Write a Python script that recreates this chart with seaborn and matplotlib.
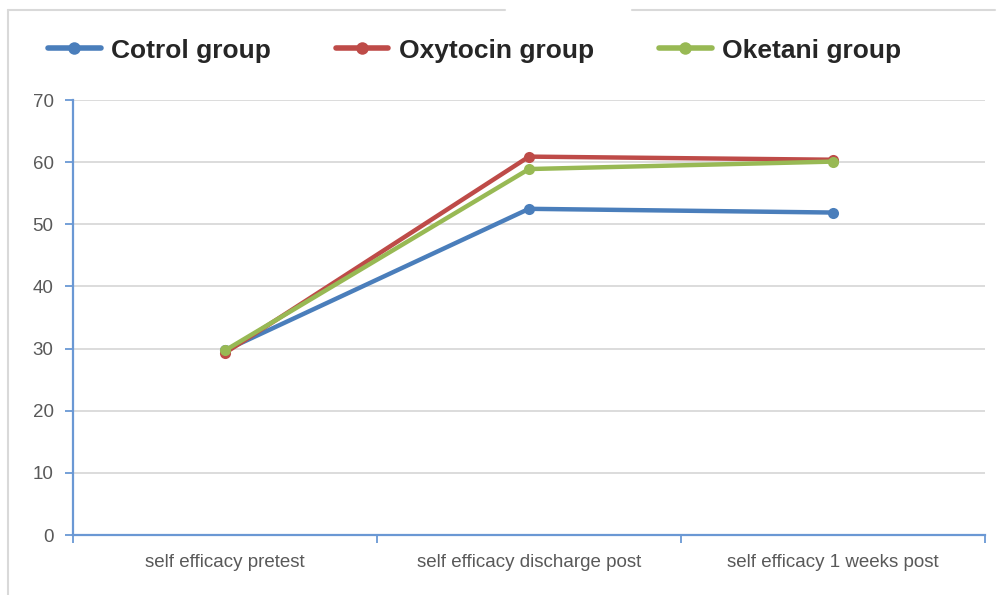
import matplotlib
matplotlib.use("Agg")
import matplotlib.pyplot as plt
import seaborn as sns
import pandas as pd
from matplotlib.lines import Line2D

categories = ["self efficacy pretest", "self efficacy discharge post", "self efficacy 1 weeks post"]
groups = ["Cotrol group", "Oxytocin group", "Oketani group"]
control_vals = [29.7, 52.5, 51.9]
oxytocin_vals = [29.3, 60.9, 60.4]
oketani_vals = [29.7, 58.9, 60.1]
yticks = [0, 10, 20, 30, 40, 50, 60, 70]
colors = ["#4A7EBB", "#BE4B48", "#98B954"]

rows = []
for g, vals in zip(groups, [control_vals, oxytocin_vals, oketani_vals]):
    for c, v in zip(categories, vals):
        rows.append({"category": c, "group": g, "value": v})
df = pd.DataFrame(rows)

sns.set_theme(style="white")
plt.rcParams["font.family"] = ["Liberation Sans", "DejaVu Sans"]

fig = plt.figure(figsize=(10, 5.95), dpi=100)
ax = fig.add_axes([0.073, 0.1008, 0.912, 0.731])

sns.lineplot(data=df, x="category", y="value", hue="group", hue_order=groups,
             palette=colors, marker="o", markersize=8, markeredgewidth=0,
             linewidth=3.2, sort=False, legend=False, ax=ax)

ax.set_xlim(-0.5, 2.5)
ax.set_ylim(0, 70)
ax.set_yticks(yticks)
ax.set_yticklabels([str(t) for t in yticks])
ax.set_xticks(range(len(categories)))
ax.set_xticklabels(categories)
ax.set_xticks([-0.5, 0.5, 1.5, 2.5], minor=True)
ax.tick_params(axis="x", which="major", bottom=False, length=0, pad=14, labelsize=13.5, labelcolor="#595959")
ax.tick_params(axis="x", which="minor", bottom=True, length=6, width=1.3, color="#6A98D4", direction="out")
ax.tick_params(axis="y", which="major", left=True, length=6, width=1.3, color="#6A98D4", direction="out",
               pad=8, labelsize=13.5, labelcolor="#595959")
ax.set_xlabel("")
ax.set_ylabel("")
ax.yaxis.grid(True, color="#D9D9D9", linewidth=1.3)
ax.set_axisbelow(True)
for s in ["top", "right"]:
    ax.spines[s].set_visible(False)
for s in ["left", "bottom"]:
    ax.spines[s].set_color("#6A98D4")
    ax.spines[s].set_linewidth(1.6)

# outer frame of the chart area (with gap at the top)
frame_c = "#D9D9D9"
fig.add_artist(Line2D([0.008, 0.008], [0.0, 0.983], color=frame_c, lw=1.5))
fig.add_artist(Line2D([0.008, 0.505], [0.983, 0.983], color=frame_c, lw=1.5))
fig.add_artist(Line2D([0.632, 0.995], [0.983, 0.983], color=frame_c, lw=1.5))

handles = [Line2D([0], [0], color=c, lw=4, marker="o", markersize=9, markeredgewidth=0) for c in colors]
fig.legend(handles, groups, loc="upper left", bbox_to_anchor=(0.024, 0.975), ncol=3,
           frameon=False, prop={"weight": "bold", "size": 19}, handlelength=2.0,
           handletextpad=0.4, columnspacing=2.45)

fig.savefig("out.png", dpi=100)
